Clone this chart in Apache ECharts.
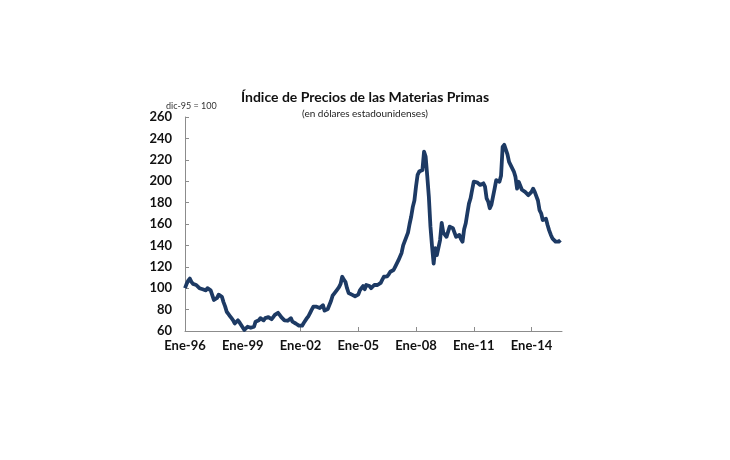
<!DOCTYPE html>
<html>
<head>
<meta charset="utf-8">
<script src="https://cdn.jsdelivr.net/npm/echarts@6/dist/echarts.min.js"></script>
<style>
  html, body { margin: 0; padding: 0; background: #fff; }
  #chart { width: 730px; height: 460px; }
</style>
</head>
<body>
<div id="chart"></div>
<script>
// monthly index, dic-95 = 100 (Jan 1996 .. Jul 2015)
const idx1996 = [100, 104, 107, 109, 106, 104, 103, 103, 102, 100, 100, 99];
const idx1997 = [98, 98, 100, 99, 98, 97, 89, 88, 91, 94, 95.5, 92];
const idx1998 = [87, 83, 78, 76, 74, 72, 70, 67, 68, 70, 68, 65.6];
const idx1999 = [64, 61, 62, 64, 64, 63, 63, 64, 68.7, 69, 70, 72];
const idx2000 = [71, 70, 72, 72, 73, 72, 71, 73, 75, 76, 77, 75];
const idx2001 = [73, 72, 70, 70, 69.6, 71, 72, 68.7, 68, 67, 65.6, 65];
const idx2002 = [64, 65, 67.5, 69, 72, 74, 77, 80, 82.7, 83, 82.7, 82];
const idx2003 = [81.5, 82, 84, 79, 78, 80.6, 82, 88, 93, 95, 96, 99];
const idx2004 = [101, 104, 110.7, 108, 106, 100, 95.5, 95, 94, 93, 92.5, 92];
const idx2005 = [94, 98, 100, 102, 99, 103, 103.6, 102, 100, 101.4, 103, 102];
const idx2006 = [103, 103, 105, 108, 110.7, 109, 111, 113, 115.4, 114, 117, 120];
const idx2007 = [123, 126, 129.5, 133, 140, 144, 148, 152, 160, 167, 176, 182];
const idx2008 = [195, 206, 209, 210, 210.5, 227.6, 223, 205, 185.5, 157.5, 139, 123];
const idx2009 = [137.5, 131, 131, 145, 161, 152, 151, 148, 148, 157.5, 156, 156];
const idx2010 = [152, 148, 149.7, 149.7, 146, 143.5, 155, 160.7, 170, 179, 184, 192];
const idx2011 = [199.5, 201, 199, 198, 196.5, 198, 198, 195, 184, 181, 174.7, 178];
const idx2012 = [185.5, 193, 201, 199.5, 199.5, 205, 232, 234, 234, 225, 218, 215];
const idx2013 = [213.5, 209, 204, 193, 199.5, 201, 192, 193, 190, 189, 187, 188.7];
const idx2014 = [190, 193, 190, 190, 182, 173, 170, 163.7, 163.7, 165, 159, 154];
const idx2015 = [150, 146.6, 145, 143.5, 144, 143.5, 145];

const monthNames = ['Ene', 'Feb', 'Mar', 'Abr', 'May', 'Jun', 'Jul', 'Ago', 'Sep', 'Oct', 'Nov', 'Dic'];
const yTicks = { min: 60, max: 260, step: 20 };

const values = [].concat(idx1996, idx1997, idx1998, idx1999, idx2000, idx2001, idx2002,
  idx2003, idx2004, idx2005, idx2006, idx2007, idx2008, idx2009, idx2010, idx2011,
  idx2012, idx2013, idx2014, idx2015);

// categories run one month past the last observation
const categories = [];
for (let i = 0; i < values.length + 1; i++) {
  const y = 1996 + Math.floor(i / 12);
  categories.push(monthNames[i % 12] + '-' + String(y).slice(2));
}

const font = 'Lato, "Open Sans", sans-serif';
const chart = echarts.init(document.getElementById('chart'));

chart.setOption({
  animation: false,
  title: [
    {
      text: 'Índice de Precios de las Materias Primas',
      left: 'center',
      top: 85,
      textStyle: { fontFamily: font, fontSize: 14, fontWeight: 'bold', color: '#111' }
    },
    {
      text: '(en dólares estadounidenses)',
      left: 'center',
      top: 104,
      textStyle: { fontFamily: font, fontSize: 10, fontWeight: 'normal', color: '#222' }
    },
    {
      text: 'dic-95 = 100',
      left: 161,
      top: 97,
      textStyle: { fontFamily: font, fontSize: 9, fontWeight: 'normal', color: '#333' }
    }
  ],
  grid: { left: 185, right: 168, top: 117, bottom: 129 },
  xAxis: {
    type: 'category',
    boundaryGap: false,
    data: categories,
    axisLine: { lineStyle: { color: '#8c8c8c', width: 1 } },
    axisTick: { inside: true, length: 4, interval: 35, lineStyle: { color: '#8c8c8c' } },
    axisLabel: {
      interval: 35,
      margin: 8,
      fontFamily: font,
      fontSize: 13,
      fontWeight: 'bold',
      color: '#111'
    },
    splitLine: { show: false }
  },
  yAxis: {
    type: 'value',
    min: yTicks.min,
    max: yTicks.max,
    interval: yTicks.step,
    axisLine: { show: true, lineStyle: { color: '#8c8c8c', width: 1 } },
    axisTick: { show: true, inside: true, length: 4, lineStyle: { color: '#8c8c8c' } },
    axisLabel: {
      margin: 13,
      fontFamily: font,
      fontSize: 13,
      fontWeight: 'bold',
      color: '#111'
    },
    splitLine: { show: false }
  },
  series: [
    {
      type: 'line',
      data: values,
      showSymbol: false,
      smooth: false,
      lineStyle: { color: '#1d3a64', width: 3.8, join: 'round' }
    }
  ]
});
</script>
</body>
</html>
